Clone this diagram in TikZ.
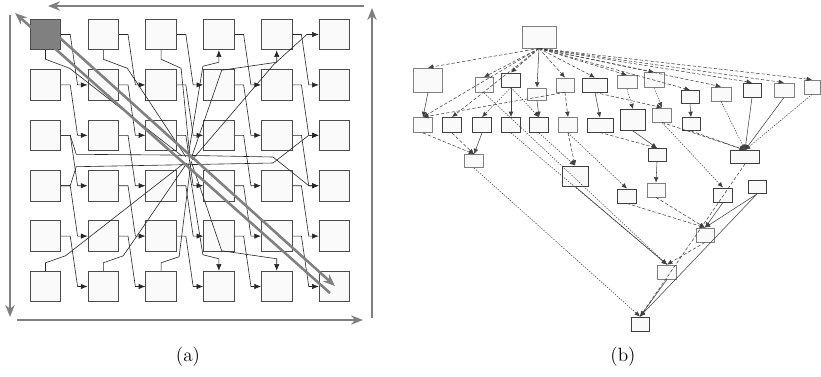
\documentclass[tikz,border=0pt]{standalone}
\usepackage{tikz}
\usetikzlibrary{arrows.meta,calc}

\tikzset{
  cell/.style={draw=black!70, fill=gray!4, line width=0.6pt, minimum width=23pt, minimum height=23pt, inner sep=0pt},
  rootcell/.style={cell, fill=black!50},
  wire/.style={draw=black!85, line width=0.45pt, -{Latex[length=5pt,width=4pt]}},
  plainwire/.style={draw=black!85, line width=0.45pt},
  flow/.style={draw=black!50, line width=1.9pt, -{Stealth[length=9pt,width=7pt]}},
  tbox/.style={draw=black!50, fill=gray!4, line width=0.6pt, inner sep=0pt},
  tboxd/.style={tbox, draw=black!75, line width=0.65pt},
  sz/.style 2 args={minimum width=#1*0.75pt, minimum height=#2*0.75pt},
  dep/.style={draw=black!75, line width=0.4pt, -{Latex[length=4pt,width=3.5pt]}},
  dsh/.style={dash pattern=on 2.5pt off 1.5pt},
  dtt/.style={dash pattern=on 1pt off 1pt},
}

\begin{document}
\begin{tikzpicture}[x=0.75pt,y=0.75pt,yscale=-1,xscale=1]
\useasboundingbox (0,0) rectangle (821,376);

% (a) grid of processors
\foreach \r in {1,...,6}{
  \foreach \c in {1,...,6}{
    \node[cell] (c-\r-\c) at ({45.5+57.8*(\c-1)},{34.5+50.4*(\r-1)}) {};
  }
}
\node[rootcell] (c-1-1) at (45.5,34.5) {};

\coordinate (hub) at (188,160);

% diagonal links
\foreach \r [evaluate=\r as \rn using int(\r+1)] in {1,...,5}{
  \foreach \c [evaluate=\c as \cn using int(\c+1)] in {1,...,5}{
    \draw[wire] (c-\r-\c.east) -- ++(9,0) -- ($(c-\rn-\cn.west)+(-10,0)$) -- (c-\rn-\cn.west);
  }
}

% links through the centre
\draw[plainwire] (c-1-1.south) -- ++(0,9) -- ++(24,9) -- ($(hub)+(-6,-4)$);
\draw[plainwire] (c-1-2.south) -- ++(0,9) -- ++(24,9) -- ($(hub)+(-2,-3)$);
\draw[plainwire] (c-1-3.south) -- ++(0,9) -- ++(20,9) -- ($(hub)+(2,-2)$);
\draw[plainwire] (c-6-1.north) -- ++(0,-8) -- ++(20,-7) -- ($(hub)+(-5,4)$);
\draw[plainwire] (c-6-2.north) -- ++(0,-8) -- ++(20,-7) -- ($(hub)+(-1,3)$);
\draw[plainwire] (c-6-3.north) -- ++(0,-8) -- ++(18,-6) -- ($(hub)+(3,2)$);
\draw[wire] ($(hub)+(0,-3)$) -- ($(c-1-4.south)+(-16,16)$) -- ($(c-1-4.south)+(0,12)$) -- (c-1-4.south);
\draw[wire] ($(hub)+(3,-1)$) -- ($(c-1-5.south)+(-55,20)$) -- ($(c-1-5.south)+(0,12)$) -- (c-1-5.south);
\draw[wire] ($(hub)+(4,0)$) -- ($(c-1-6.west)+(-45,30)$) -- ($(c-1-6.west)+(-12,0)$) -- (c-1-6.west);
\draw[wire] ($(hub)+(0,3)$) -- ($(c-6-4.north)+(-16,-16)$) -- ($(c-6-4.north)+(0,-12)$) -- (c-6-4.north);
\draw[wire] ($(hub)+(3,1)$) -- ($(c-6-5.north)+(-55,-20)$) -- ($(c-6-5.north)+(0,-12)$) -- (c-6-5.north);
\draw[wire] (c-3-1.east) -- ++(9,0) -- ++(6,19) -- ($(hub)+(-20,-5)$) -- ($(hub)+(85,-3)$) -- ($(c-4-6.west)+(-10,0)$) -- (c-4-6.west);
\draw[wire] (c-4-1.east) -- ++(9,0) -- ++(6,-19) -- ($(hub)+(-20,5)$) -- ($(hub)+(85,3)$) -- ($(c-3-6.west)+(-10,0)$) -- (c-3-6.west);

% outer flow arrows
\coordinate (tl) at (10,6);
\coordinate (tr) at (372,6);
\coordinate (bl) at (10,320);
\coordinate (br) at (372,320);
\draw[flow] ($(tr)+(-8,0)$) -- ($(tl)+(38,0)$);
\draw[flow] ($(br)+(0,-2)$) -- ($(tr)+(0,2)$);
\draw[flow] ($(bl)+(7,0)$) -- ($(br)+(-9,0)$);
\draw[flow] ($(tl)+(0,9)$) -- ($(bl)+(0,-3)$);
\draw[flow] (50,29) -- (335,286);
\draw[flow] (330,293) -- (15,13);

% (b) task graph
\node[tbox,sz={34}{22}] (root) at (539,37) {};
\node[tbox,sz={29}{24}] (b1) at (428,80) {};
\node[tbox,sz={18}{15}] (b2) at (484,85) {};
\node[tboxd,sz={19}{14}] (b3) at (511,80) {};
\node[tbox,sz={19}{12}] (b4) at (537,94) {};
\node[tbox,sz={18}{14}] (b5) at (565,85) {};
\node[tboxd,sz={25}{14}] (b6) at (595,85) {};
\node[tbox,sz={20}{13}] (b7) at (627,82) {};
\node[tbox,sz={20}{15}] (b8) at (654,80) {};
\node[tboxd,sz={18}{13}] (b9) at (690,97) {};
\node[tbox,sz={20}{14}] (b10) at (721,94) {};
\node[tboxd,sz={18}{14}] (b11) at (752,90) {};
\node[tbox,sz={20}{14}] (b12) at (784,90) {};
\node[tbox,sz={16}{14}] (b13) at (812,87) {};

\node[tbox,sz={19}{15}] (c1) at (423,125) {};
\node[tboxd,sz={19}{15}] (c2) at (452,125) {};
\node[tboxd,sz={19}{15}] (c3) at (482,125) {};
\node[tboxd,sz={19}{15}] (c4) at (511,125) {};
\node[tboxd,sz={19}{15}] (c5) at (539,125) {};
\node[tbox,sz={19}{15}] (c6) at (568,125) {};
\node[tboxd,sz={26}{14}] (c7) at (600,125) {};
\node[tboxd,sz={25}{21}] (c8) at (633,120) {};
\node[tbox,sz={19}{14}] (c9) at (662,115) {};
\node[tboxd,sz={18}{13}] (c10) at (691,124) {};

\node[tbox,sz={19}{13}] (d1) at (474,161) {};
\node[tboxd,sz={26}{20}] (d2) at (575,176) {};
\node[tboxd,sz={18}{13}] (d3) at (657,155) {};
\node[tboxd,sz={29}{13}] (d4) at (745,157) {};

\node[tboxd,sz={19}{14}] (e1) at (627,196) {};
\node[tbox,sz={18}{14}] (e2) at (656,190) {};
\node[tboxd,sz={19}{14}] (e3) at (723,195) {};
\node[tboxd,sz={18}{13}] (e4) at (757,187) {};
\node[tbox,sz={18}{14}] (e5) at (705,235) {};
\node[tbox,sz={19}{14}] (e6) at (667,272) {};
\node[tboxd,sz={18}{14}] (e7) at (640,324) {};

% dependencies
\foreach \t in {b1,b2,b3,b5,b6,b7,b8,b9,b10,b11,b12,b13}{
  \draw[dep,dsh] (root.south) -- (\t.north);
}
\draw[dep] (root.south) -- (b4.north);
\draw[dep,dsh] (root.south) -- (c1.north);
\draw[dep,dsh] (root.south) -- (c2.north);
\draw[dep] (b1.south) -- (c1.north);
\draw[dep,dtt] (b3.south) -- (c3.north);
\draw[dep] (b3.south) -- (c4.north);
\draw[dep,dtt] (b3.south) -- (c5.north);
\draw[dep] (b4.south) -- (c5.north);
\draw[dep,dsh] (b5.south) -- (c1.north);
\draw[dep,dsh] (b5.south) -- (c6.north);
\draw[dep] (b6.south) -- (c7.north);
\draw[dep,dsh] (b6.south) -- (c9.north);
\draw[dep,dtt] (b7.south) -- (c8.north);
\draw[dep,dtt] (b8.south) -- (c9.north);
\draw[dep] (b9.south) -- (c10.north);
\draw[dep,dtt] (b10.south) -- (d4.north);
\draw[dep] (b11.south) -- (d4.north);
\draw[dep] (b12.south) -- (d4.north);
\draw[dep,dtt] (b13.south) -- (d4.north);
\draw[dep,dsh] (c9.south) -- (d4.north);
\draw[dep,dsh] (c10.south) -- (d4.north);
\draw[dep,dsh] (c1.south) -- (d1.north);
\draw[dep,dsh] (c2.south) -- (d1.north);
\draw[dep] (c3.south) -- (d1.north);
\draw[dep,dtt] (c5.south) -- (d2.north);
\draw[dep,dsh] (c6.south) -- (d2.north);
\draw[dep,dsh] (c7.south) -- (d3.north);
\draw[dep] (c8.south) -- (d3.north);
\draw[dep] (d3.south) -- (e2.north);
\draw[dep,dtt] (c6.south) -- (e1.north);
\draw[dep,dtt] (c9.south) -- (e3.north);
\draw[dep,dsh] (e1.south) -- (e5.north);
\draw[dep,dsh] (e2.south) -- (e5.north);
\draw[dep] (e3.south) -- (e5.north);
\draw[dep] (e4.south) -- (e5.north);
\draw[dep,dsh] (e5.south) -- (e6.north);
\draw[dep,dtt] (c4.south) -- (e6.north);
\draw[dep,dtt] (b2.south) -- (e6.north);
\draw[dep] (d2.south) -- (e6.north);
\draw[dep,dtt] (d1.south) -- (e7.north);
\draw[dep] (e6.south) -- (e7.north);
\draw[dep] (e4.south) -- (e7.north);
\draw[dep,dsh] (d4.south) -- (e7.north);

% captions
\node (capa) at (188,357) {\Large (a)};
\node (capb) at (623,357) {\Large (b)};
\end{tikzpicture}
\end{document}
